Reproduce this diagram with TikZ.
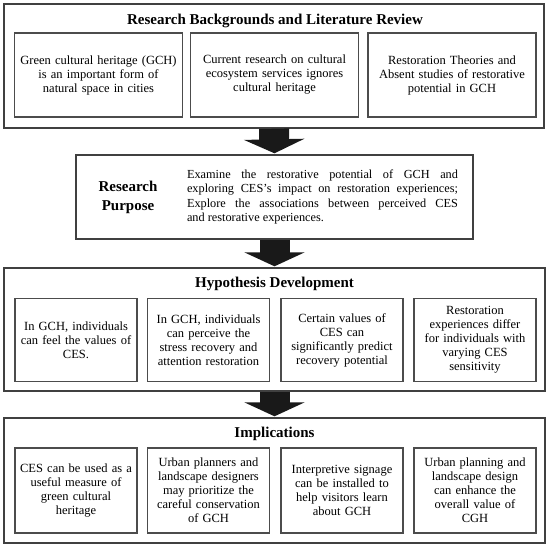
\documentclass[tikz,border=0pt]{standalone}
\usepackage{fontspec}
\setmainfont{Liberation Serif}
\usetikzlibrary{arrows.meta,positioning}

\tikzset{
  outbox/.style={draw=black!75, line width=1.4pt, inner sep=0pt},
  inbox/.style={draw=black!70, line width=1.1pt, inner sep=0pt, align=center,
    text width=#1, font=\fontsize{12.5}{14}\selectfont},
  heading/.style={font=\fontsize{15}{15}\selectfont\bfseries},
  bigarrow/.style={line width=30pt, draw=black!90, shorten >=1pt,
    -{Triangle[length=14pt,width=60pt]}}
}

\begin{document}
\begin{tikzpicture}[x=1pt,y=-1pt]
  \useasboundingbox (0,0) rectangle (550,547);

  % research backgrounds
  \node[outbox, minimum width=540pt, minimum height=124pt] (back) at (274,66) {};
  \node[heading] (backtitle) at (275,21) {Research Backgrounds and Literature Review};
  \node[inbox=168pt, minimum height=84pt] (back1) at (98.5,75)
    {Green cultural heritage (GCH)\\ is an important form of\\ natural space in cities};
  \node[inbox=168pt, minimum height=84pt] (back2) at (274.5,75)
    {Current research on cultural\\ ecosystem services ignores\\ cultural heritage};
  \node[inbox=168pt, minimum height=84pt] (back3) at (452,75)
    {Restoration Theories and\\ Absent studies of restorative\\ potential in GCH};

  % research purpose
  \node[outbox, minimum width=397pt, minimum height=84pt] (purpose) at (274.5,197) {};
  \node[heading, align=center, font=\fontsize{15}{19}\selectfont\bfseries] (purptitle) at (128,197.5)
    {Research\\ Purpose};
  \node[text width=271pt, align=justify, inner sep=0pt,
    font=\fontsize{12.3}{14.3}\selectfont] (purptext) at (322.5,197)
    {Examine the restorative potential of GCH and\linebreak
     exploring CES's impact on restoration experiences;\linebreak
     Explore the associations between perceived CES\linebreak
     and restorative experiences.};

  % hypothesis development
  \node[outbox, minimum width=541pt, minimum height=123pt] (hypo) at (274.5,329.5) {};
  \node[heading] (hypotitle) at (274.5,283.5) {Hypothesis Development};
  \node[inbox=122pt, minimum height=83pt] (hypo1) at (76,340)
    {In GCH, individuals\\ can feel the values of\\ CES.};
  \node[inbox=122pt, minimum height=83pt] (hypo2) at (208.5,340)
    {In GCH, individuals\\ can perceive the\\ stress recovery and\\ attention restoration};
  \node[inbox=122pt, minimum height=83pt] (hypo3) at (342,340)
    {Certain values of\\ CES can\\ significantly predict\\ recovery potential};
  \node[inbox=122pt, minimum height=83pt] (hypo4) at (475,340)
    {Restoration\\ experiences differ\\ for individuals with\\ varying CES\\ sensitivity};

  % implications
  \node[outbox, minimum width=541pt, minimum height=125pt] (impl) at (274.5,480.5) {};
  \node[heading] (impltitle) at (274.5,434) {Implications};
  \node[inbox=122pt, minimum height=85pt] (impl1) at (76,490.5)
    {CES can be used as a\\ useful measure of\\ green cultural\\ heritage};
  \node[inbox=122pt, minimum height=85pt] (impl2) at (208.5,490.5)
    {Urban planners and\\ landscape designers\\ may prioritize the\\ careful conservation\\ of GCH};
  \node[inbox=122pt, minimum height=85pt] (impl3) at (342,490.5)
    {Interpretive signage\\ can be installed to\\ help visitors learn\\ about GCH};
  \node[inbox=122pt, minimum height=85pt] (impl4) at (475,490.5)
    {Urban planning and\\ landscape design\\ can enhance the\\ overall value of\\ CGH};

  % arrows between the stages
  \draw[bigarrow] (back.south) -- (purpose.north);
  \draw[bigarrow] (purpose.south) -- (hypo.north);
  \draw[bigarrow] (hypo.south) -- (impl.north);
\end{tikzpicture}
\end{document}
